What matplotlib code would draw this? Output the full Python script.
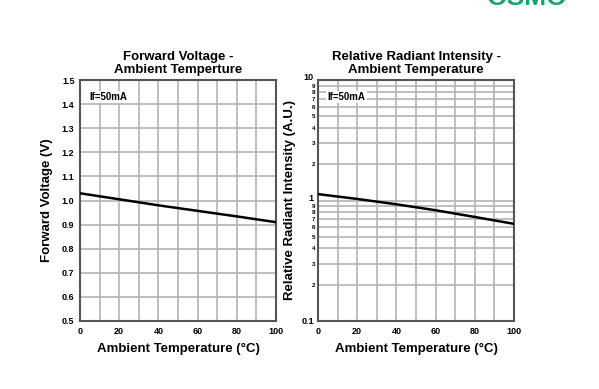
import numpy as np
import matplotlib.pyplot as plt
from matplotlib.ticker import FixedLocator, FixedFormatter
from matplotlib.transforms import ScaledTranslation

plt.rcParams['font.family'] = ['Liberation Sans', 'DejaVu Sans']

temp = [0, 20, 40, 60, 80, 100]
vf = [1.03, 1.005, 0.98, 0.957, 0.934, 0.91]
intensity = [1.13, 1.03, 0.93, 0.83, 0.73, 0.64]
minor_vals = [m * d for d in (0.1, 1) for m in range(2, 10)]
minor_labels = [str(m) for d in (0.1, 1) for m in range(2, 10)]

grid_c = '#b4b4b4'
frame_c = '#555555'

fig = plt.figure(figsize=(5.99, 3.89), dpi=100)
ax1 = fig.add_axes([80 / 599, 1 - 321 / 389, 196 / 599, 241 / 389])
ax2 = fig.add_axes([318 / 599, 1 - 321 / 389, 196 / 599, 241 / 389])

for ax in (ax1, ax2):
    ax.set_xlim(0, 100)
    ax.set_xticks(np.arange(0, 101, 20))
    ax.set_xticks(np.arange(10, 100, 20), minor=True)
    ax.tick_params(which='both', length=0, labelsize=6.5, pad=4)
    for lab in ax.get_xticklabels():
        lab.set_fontweight('bold')
    for s in ax.spines.values():
        s.set_color(frame_c)
        s.set_linewidth(1.5)
    ax.set_xlabel('Ambient Temperature (°C)', fontsize=9.5, fontweight='bold', labelpad=5)
    ax.text(0.05, 0.93, 'If=50mA', transform=ax.transAxes, fontsize=7, fontweight='bold',
            va='center', ha='left', bbox=dict(facecolor='white', edgecolor='none', pad=1), zorder=3)

# forward voltage
ax1.set_ylim(0.5, 1.5)
ax1.set_yticks(np.arange(0.5, 1.51, 0.1))
ax1.set_yticklabels([f'{v:.1f}' for v in np.arange(0.5, 1.51, 0.1)], fontweight='bold')
ax1.grid(True, which='both', color=grid_c, linewidth=1.2)
ax1.set_axisbelow(True)
ax1.plot(temp, vf, color='black', linewidth=1.8, zorder=4)
ax1.set_ylabel('Forward Voltage (V)', fontsize=9.5, fontweight='bold', labelpad=6)
ax1.set_title('Forward Voltage -\nAmbient Temperture', fontsize=9.5, fontweight='bold', linespacing=1.1, pad=5)

# relative radiant intensity
ax2.set_yscale('log')
ax2.set_ylim(0.1, 10)
ax2.yaxis.set_major_locator(FixedLocator([0.1, 1, 10]))
ax2.yaxis.set_major_formatter(FixedFormatter(['0.1', '1', '10']))
ax2.yaxis.set_minor_locator(FixedLocator(minor_vals))
ax2.yaxis.set_minor_formatter(FixedFormatter(minor_labels))
ax2.tick_params(axis='y', which='major', labelsize=6.5, pad=3)
ax2.tick_params(axis='y', which='minor', labelsize=4.5, pad=2)
lift = ScaledTranslation(0, 2.5 / 72, fig.dpi_scale_trans)
for i, lab in enumerate(ax2.get_yticklabels(which='major')):
    lab.set_fontweight('bold')
    if i > 0:
        lab.set_transform(lab.get_transform() + lift)
for lab in ax2.get_yticklabels(which='minor'):
    lab.set_fontweight('bold')
ax2.grid(True, which='both', color=grid_c, linewidth=1.2)
ax2.set_axisbelow(True)
ax2.plot(temp, intensity, color='black', linewidth=1.8, zorder=4)
ax2.set_ylabel('Relative Radiant Intensity (A.U.)', fontsize=9.5, fontweight='bold', labelpad=4)
ax2.set_title('Relative Radiant Intensity -\nAmbient Temperature', fontsize=9.5, fontweight='bold', linespacing=1.1, pad=5)

# cut-off logo at the top right
fig.text(0.88, 1.005, 'OSMO', color='#1f9e72', fontsize=19, fontweight='bold', ha='center', va='center')

fig.savefig('out.png', dpi=100)
